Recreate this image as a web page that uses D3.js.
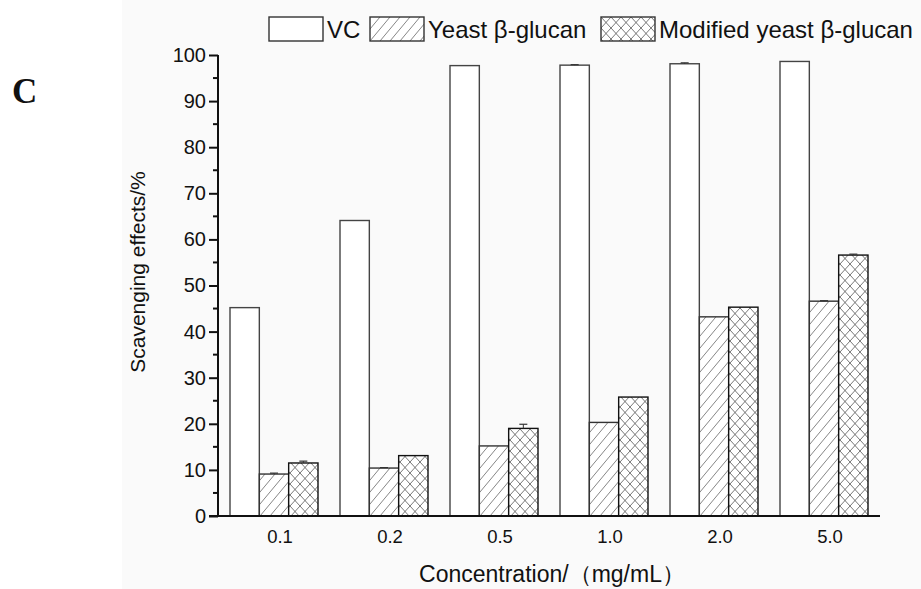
<!DOCTYPE html>
<html>
<head>
<meta charset="utf-8">
<script src="https://cdn.jsdelivr.net/npm/d3@7"></script>
<style>
  body { margin: 0; background: #fff; }
  text { font-family: Arial, "Liberation Sans", sans-serif; fill: #111; }
</style>
</head>
<body>
<div id="chart"></div>
<script>
var categories = ["0.1", "0.2", "0.5", "1.0", "2.0", "5.0"];
var seriesNames = ["VC", "Yeast β-glucan", "Modified yeast β-glucan"];
var vc = [45.2, 64.1, 97.7, 97.8, 98.1, 98.6];
var yeast = [9.1, 10.4, 15.2, 20.3, 43.2, 46.6];
var modified = [11.5, 13.1, 19.0, 25.8, 45.3, 56.6];
var vcErr = [0, 0, 0, 0.1, 0.2, 0];
var yeastErr = [0.2, 0.1, 0, 0, 0, 0.1];
var modifiedErr = [0.4, 0, 0.9, 0, 0, 0.2];
var yTicks = [0, 10, 20, 30, 40, 50, 60, 70, 80, 90, 100];

function init() {
    var w = 921;
    var h = 589;

    var svg = d3.select("#chart")
                .append("svg")
                .attr("width", w)
                .attr("height", h);

    // faint scanned backdrop
    svg.append("rect")
        .attr("x", 122).attr("y", 0)
        .attr("width", w - 122).attr("height", h)
        .attr("fill", "#fafafa");

    var defs = svg.append("defs");
    var hatch = defs.append("pattern")
        .attr("id", "hatch")
        .attr("patternUnits", "userSpaceOnUse")
        .attr("width", 10).attr("height", 12);
    hatch.append("rect").attr("width", 10).attr("height", 12).attr("fill", "#fff");
    hatch.append("path")
        .attr("d", "M0,12 L10,0 M-5,6 L0,0 M10,12 L15,6")
        .attr("stroke", "#666").attr("stroke-width", 0.8);

    var cross = defs.append("pattern")
        .attr("id", "cross")
        .attr("patternUnits", "userSpaceOnUse")
        .attr("width", 10).attr("height", 11);
    cross.append("rect").attr("width", 10).attr("height", 11).attr("fill", "#fff");
    cross.append("path")
        .attr("d", "M0,11 L10,0 M0,0 L10,11")
        .attr("stroke", "#555").attr("stroke-width", 0.8);

    var fills = ["#fff", "url(#hatch)", "url(#cross)"];
    var strokes = ["#444", "#333", "#111"];
    var values = [vc, yeast, modified];
    var errs = [vcErr, yeastErr, modifiedErr];

    var xScale = d3.scaleBand()
                .domain(categories)
                .range([219, 879])
                .paddingInner(0.2)
                .paddingOuter(0.1);

    var xInner = d3.scaleBand()
                .domain(d3.range(3))
                .range([0, xScale.bandwidth()]);

    var yScale = d3.scaleLinear()
                .domain([0, 100])
                .range([516, 55]);

    var data = [];
    categories.forEach(function(c, i) {
        for (var s = 0; s < 3; s++) {
            data.push({cat: c, s: s, v: values[s][i], e: errs[s][i]});
        }
    });

    svg.selectAll("rect.bar")
        .data(data)
        .enter()
        .append("rect")
        .attr("class", "bar")
        .attr("x", function(d) { return xScale(d.cat) + xInner(d.s); })
        .attr("y", function(d) { return yScale(d.v); })
        .attr("width", xInner.bandwidth())
        .attr("height", function(d) { return yScale(0) - yScale(d.v); })
        .attr("fill", function(d) { return fills[d.s]; })
        .attr("stroke", function(d) { return strokes[d.s]; })
        .attr("stroke-width", 1.4);

    // error bars
    var eb = svg.selectAll("g.err")
        .data(data.filter(function(d) { return d.e > 0; }))
        .enter()
        .append("g")
        .attr("class", "err");
    eb.append("line")
        .attr("x1", function(d) { return xScale(d.cat) + xInner(d.s) + xInner.bandwidth() / 2; })
        .attr("x2", function(d) { return xScale(d.cat) + xInner(d.s) + xInner.bandwidth() / 2; })
        .attr("y1", function(d) { return yScale(d.v); })
        .attr("y2", function(d) { return yScale(d.v + d.e); })
        .attr("stroke", "#333").attr("stroke-width", 1);
    eb.append("line")
        .attr("x1", function(d) { return xScale(d.cat) + xInner(d.s) + xInner.bandwidth() / 2 - 4; })
        .attr("x2", function(d) { return xScale(d.cat) + xInner(d.s) + xInner.bandwidth() / 2 + 4; })
        .attr("y1", function(d) { return yScale(d.v + d.e); })
        .attr("y2", function(d) { return yScale(d.v + d.e); })
        .attr("stroke", "#333").attr("stroke-width", 1.2);

    // y axis
    var yAxis = d3.axisLeft(yScale)
        .tickValues(yTicks)
        .tickSize(9)
        .tickPadding(3)
        .tickFormat(d3.format("d"));
    var gy = svg.append("g")
        .attr("transform", "translate(218,0)")
        .call(yAxis);
    gy.select(".domain").attr("stroke", "#111").attr("stroke-width", 2).attr("d", "M0,516V55");
    gy.selectAll(".tick line").attr("stroke", "#111").attr("stroke-width", 2);
    gy.selectAll(".tick text")
        .style("font-size", "20px")
        .style("font-family", "Arial, 'Liberation Sans', sans-serif")
        .attr("fill", "#111");

    gy.selectAll("line.minor")
        .data(d3.range(5, 100, 10))
        .enter()
        .append("line")
        .attr("class", "minor")
        .attr("x1", -5).attr("x2", 0)
        .attr("y1", function(d) { return yScale(d); })
        .attr("y2", function(d) { return yScale(d); })
        .attr("stroke", "#111").attr("stroke-width", 2);

    // x axis
    var xAxis = d3.axisBottom(xScale).tickSize(0).tickPadding(14);
    var gx = svg.append("g")
        .attr("transform", "translate(0,516)")
        .call(xAxis);
    gx.select(".domain").attr("stroke", "#111").attr("stroke-width", 2).attr("d", "M209,0H880");
    gx.selectAll(".tick text")
        .attr("dx", 6)
        .style("font-size", "18.5px")
        .style("font-family", "Arial, 'Liberation Sans', sans-serif")
        .attr("fill", "#111");

    // axis titles
    svg.append("text")
        .attr("transform", "translate(145,272) rotate(-90)")
        .attr("text-anchor", "middle")
        .style("font-size", "21px")
        .text("Scavenging effects/%");

    svg.append("text")
        .attr("x", 552).attr("y", 582)
        .attr("text-anchor", "middle")
        .style("font-size", "23px")
        .text("Concentration/（mg/mL）");

    // panel letter
    svg.append("text")
        .attr("x", 12).attr("y", 103)
        .style("font-family", "'Liberation Serif', 'Times New Roman', serif")
        .style("font-weight", "bold")
        .style("font-size", "35px")
        .text("C");

    // legend
    var legendX = [269, 370, 601];
    var lg = svg.selectAll("g.legend")
        .data(seriesNames)
        .enter()
        .append("g")
        .attr("class", "legend")
        .attr("transform", function(d, i) { return "translate(" + legendX[i] + ",17)"; });
    lg.append("rect")
        .attr("width", 54).attr("height", 24)
        .attr("fill", function(d, i) { return fills[i]; })
        .attr("stroke", "#333").attr("stroke-width", 1.4);
    lg.append("text")
        .attr("x", 58).attr("y", 21)
        .style("font-size", "24px")
        .text(function(d) { return d; });
}

window.onload = init;
</script>
</body>
</html>
